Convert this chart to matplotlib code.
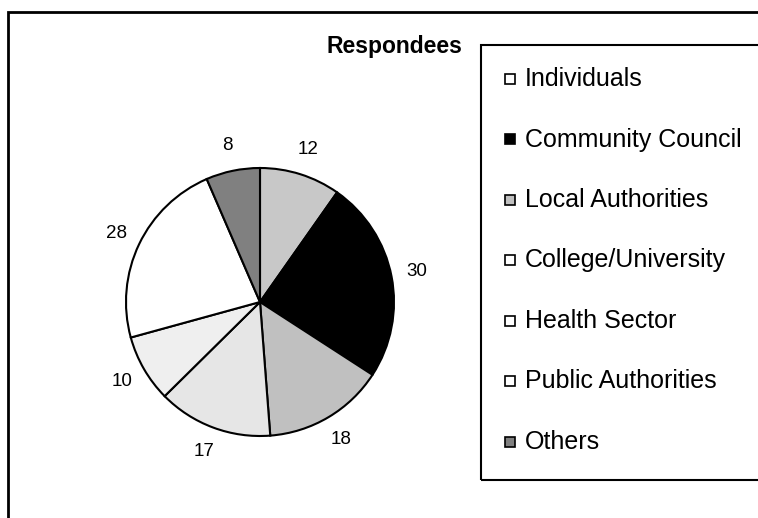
# pie chart of respondees by group

import matplotlib.pyplot as plt
from matplotlib.patches import Rectangle

plt.rcParams['font.family'] = ['Liberation Sans', 'DejaVu Sans']

groups = ["Individuals", "Community Council", "Local Authorities",
          "College/University", "Health Sector", "Public Authorities", "Others"]
counts = [12, 30, 18, 17, 10, 28, 8]

slice_colors = ["#c8c8c8", "#000000", "#c0c0c0", "#e6e6e6", "#efefef", "#ffffff", "#808080"]
key_colors = ["#ffffff", "#000000", "#c0c0c0", "#ffffff", "#ffffff", "#ffffff", "#808080"]

W, H = 758, 518
fig = plt.figure(figsize=(W / 100, H / 100), dpi=100)

# outer chart frame (runs off the right / bottom edge)
fig.patches.append(Rectangle((8 / W, -0.1), 1.2, 1 - 12 / H + 0.1, transform=fig.transFigure,
                             fill=False, edgecolor="black", linewidth=2))

# pie axes: centre (260, 302), radius 134 px
cx, cy, r = 260, 302, 134
ax = fig.add_axes([(cx - r) / W, (H - cy - r) / H, 2 * r / W, 2 * r / H])
wedges, texts = ax.pie(counts, colors=slice_colors, startangle=90, counterclock=False,
                       labels=[str(c) for c in counts], labeldistance=1.19,
                       wedgeprops=dict(edgecolor="black", linewidth=1.5),
                       textprops=dict(fontsize=13.5))
for t in texts:
    t.set_ha("center")
    t.set_va("center")
ax.set_xlim(-1, 1)
ax.set_ylim(-1, 1)
ax.set_aspect("auto")
ax.axis("off")

fig.text(394 / W, 1 - 46 / H, "Respondees", ha="center", va="center",
         fontsize=16.5, fontweight="bold")

# legend box
lx, ly, lh = 481, 45, 435
fig.patches.append(Rectangle((lx / W, 1 - (ly + lh) / H), 1.0, lh / H, transform=fig.transFigure,
                             fill=False, edgecolor="black", linewidth=1.5))
for i, (g, kc) in enumerate(zip(groups, key_colors)):
    y = 79 + i * 60.5
    fig.patches.append(Rectangle((505 / W, 1 - (y + 4.5) / H), 10 / W, 10 / H,
                                 transform=fig.transFigure, facecolor=kc,
                                 edgecolor="black", linewidth=1.2))
    fig.text(525 / W, 1 - y / H, g, ha="left", va="center", fontsize=18)

plt.savefig("out.png", dpi=100)
